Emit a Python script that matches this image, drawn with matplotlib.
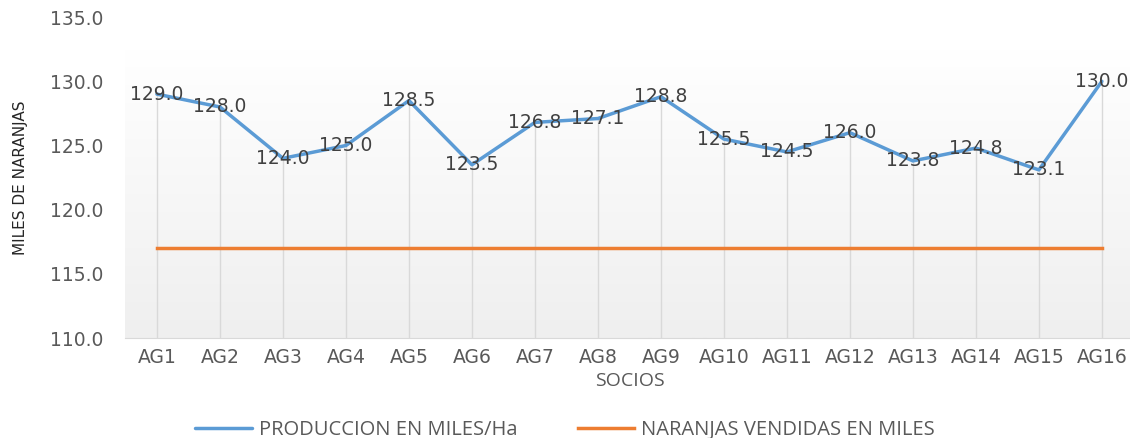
import numpy as np
import matplotlib
matplotlib.use("Agg")
import matplotlib.pyplot as plt
from matplotlib.colors import LinearSegmentedColormap

socios = ["AG1", "AG2", "AG3", "AG4", "AG5", "AG6", "AG7", "AG8",
          "AG9", "AG10", "AG11", "AG12", "AG13", "AG14", "AG15", "AG16"]
produccion = [129.0, 128.0, 124.0, 125.0, 128.5, 123.5, 126.8, 127.1,
              128.8, 125.5, 124.5, 126.0, 123.8, 124.8, 123.1, 130.0]
vendidas = [117.0] * 16
y_ticks = [110.0, 115.0, 120.0, 125.0, 130.0, 135.0]

txt = "#595959"
blue = "#5b9bd5"
orange = "#ed7d31"

plt.rcParams["font.family"] = ["DejaVu Sans"]

fig = plt.figure(figsize=(11.3, 4.38), dpi=100)
ax = fig.add_axes([0.111, 0.228, 0.892, 0.733])
x = np.arange(len(socios))

# gradient fill: light grey at the bottom fading to white near the top
cmap = LinearSegmentedColormap.from_list("g", ["#efefef", "#ffffff"])
grad = np.linspace(0, 1, 256).reshape(-1, 1)
ax.imshow(grad, cmap=cmap, aspect="auto", origin="lower",
          extent=[-0.5, 15.5, 110, 132.5], zorder=0)

# drop lines
ax.vlines(x, 110, produccion, color="#d9d9d9", lw=1, zorder=1)

ax.plot(x, produccion, color=blue, lw=2.5, zorder=3,
        label="PRODUCCION EN MILES/Ha", solid_capstyle="round")
ax.plot(x, vendidas, color=orange, lw=2.5, zorder=3,
        label="NARANJAS VENDIDAS EN MILES")

for xi, v in zip(x, produccion):
    ax.text(xi, v, f"{v:.1f}", ha="center", va="center", fontsize=13.5,
            color="#404040", zorder=4)

ax.set_xlim(-0.5, 15.5)
ax.set_ylim(110, 135)
ax.set_yticks(y_ticks)
ax.set_yticklabels([f"{t:.1f}" for t in y_ticks])
ax.set_xticks(x)
ax.set_xticklabels(socios)
ax.tick_params(axis="both", length=0, labelsize=13.5, labelcolor=txt)
ax.tick_params(axis="y", pad=16)
ax.tick_params(axis="x", pad=7)

for s in ["top", "right", "left"]:
    ax.spines[s].set_visible(False)
ax.spines["bottom"].set_color("#d9d9d9")

ax.set_xlabel("SOCIOS", color=txt, labelpad=4,
              fontdict={"family": "Open Sans", "size": 14})
fig.text(0.018, 0.594, "MILES DE NARANJAS", rotation=90, ha="center",
         va="center", fontsize=11, color="#262626",
         family="Liberation Sans Narrow")

fig.legend(loc="center", bbox_to_anchor=(0.5, 0.018), ncol=2, frameon=False,
           labelcolor=txt, handlelength=2.8, columnspacing=3.0,
           handletextpad=0.35, prop={"family": "Open Sans", "size": 14.5})

fig.savefig("out.png", dpi=100)
